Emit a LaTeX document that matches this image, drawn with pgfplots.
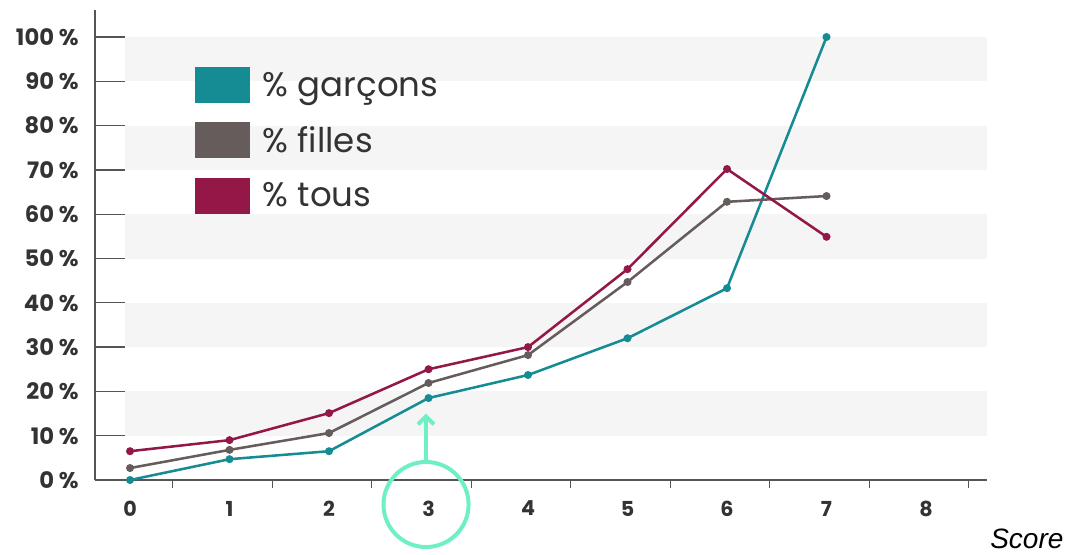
\documentclass[border=0pt]{standalone}
\usepackage{fontspec}
\setmainfont{Poppins}
\newfontfamily\arialfont{Liberation Sans}
\usepackage{pgfplots}
\pgfplotsset{compat=1.18}
\usetikzlibrary{arrows.meta}
\definecolor{cg}{HTML}{158B94}
\definecolor{cf}{HTML}{665C5C}
\definecolor{ct}{HTML}{931848}
\definecolor{band}{HTML}{F5F5F5}
\definecolor{mint}{HTML}{6FEFC6}
\definecolor{axg}{HTML}{555555}
\definecolor{txt}{HTML}{333333}
\begin{document}
\begin{tikzpicture}
\useasboundingbox (0,0) rectangle (802.5pt,-416.25pt);
\begin{axis}[
  at={(71.25pt,-360pt)}, anchor=south west,
  scale only axis, width=669pt, height=352.5pt,
  xmin=-0.352, xmax=8.613, ymin=0, ymax=106.1,
  axis x line*=bottom, axis y line*=left,
  axis line style={axg, line width=1pt, -},
  clip=false,
  xtick={0,...,8},
  xticklabels={0,1,2,3,4,5,6,7,8},
  xtick style={draw=none},
  minor xtick={0.43,1.43,2.43,3.43,4.43,5.43,6.43,7.43,8.43},
  minor x tick style={draw=axg, line width=1pt},
  minor tick length=6pt, tick align=outside,
  ytick={0,10,...,100},
  yticklabels={0 \%,10 \%,20 \%,30 \%,40 \%,50 \%,60 \%,70 \%,80 \%,90 \%,100 \%},
  ytick style={draw=none},
  /pgf/number format/assume math mode=true,
  xticklabel style={font=\bfseries\fontsize{15.5}{18}\selectfont, text=txt, yshift=-8pt},
  yticklabel style={font=\bfseries\fontsize{17}{20}\selectfont, text=txt, anchor=east, xshift=-4.5pt},
  legend style={at={(0.112,0.879)}, anchor=north west, draw=none, fill=none,
    font=\fontsize{25.5}{30}\selectfont, text=txt, row sep=14.5pt, inner sep=0pt,
    /tikz/every odd column/.append style={column sep=7.5pt}},
  legend cell align=left,
  legend image code/.code={\fill[draw=none] (0pt,-13.5pt) rectangle (41.25pt,13.5pt);},
]
\fill[band] (axis cs:-0.05,10) rectangle (axis cs:8.613,20);
\fill[band] (axis cs:-0.05,30) rectangle (axis cs:8.613,40);
\fill[band] (axis cs:-0.05,50) rectangle (axis cs:8.613,60);
\fill[band] (axis cs:-0.05,70) rectangle (axis cs:8.613,80);
\fill[band] (axis cs:-0.05,90) rectangle (axis cs:8.613,100);
\pgfplotsinvokeforeach{10,20,...,100}{\draw[axg, line width=1pt] (axis cs:-0.352,#1) -- (axis cs:-0.05,#1);}

\addplot[color=cg, line width=1.9pt, mark=*, mark size=2pt] coordinates {(0,0)(1,4.7)(2,6.5)(3,18.5)(4,23.7)(5,32)(6,43.3)(7,100)};
\addlegendentry{\% garçons}
\addplot[color=cf, line width=1.9pt, mark=*, mark size=2pt] coordinates {(0,2.7)(1,6.8)(2,10.6)(3,21.9)(4,28.2)(5,44.7)(6,62.8)(7,64.1)};
\addlegendentry{\% filles}
\addplot[color=ct, line width=1.9pt, mark=*, mark size=2pt] coordinates {(0,6.5)(1,9)(2,15.1)(3,25)(4,30)(5,47.6)(6,70.2)(7,54.9)};
\addlegendentry{\% tous}

\draw[mint, line width=3pt] (axis cs:2.975,-5.53) circle [radius=31.9pt];
\draw[mint, line width=3pt, -{Straight Barb[length=6pt,width=12pt]}] (axis cs:2.975,4.06) -- (axis cs:2.975,15);
\end{axis}
\node[anchor=base west, font=\arialfont\itshape\fontsize{21}{24}\selectfont, text=black, inner sep=0pt] at (742.5pt,-411.5pt) {Score};
\end{tikzpicture}
\end{document}
